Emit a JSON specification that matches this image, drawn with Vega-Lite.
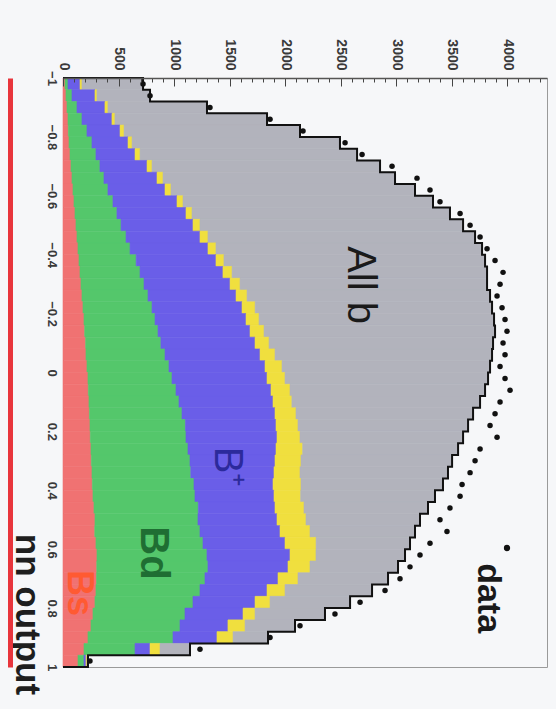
{
  "$schema": "https://vega.github.io/schema/vega-lite/v6.json",
  "width": 484,
  "height": 589,
  "autosize": {"type": "none"},
  "padding": {"left": 63, "top": 78, "right": 9, "bottom": 42},
  "background": "#f6f7f9",
  "config": {
    "view": {"stroke": "#9a9a9a", "strokeWidth": 1},
    "font": "Liberation Sans"
  },
  "datasets": {
    "bins": [
      {"lo": -1.00, "hi": -0.96, "a_Bs": 18, "b_Bd": 27, "c_Bplus": 108, "d_other": 18, "e_rest": 550},
      {"lo": -0.96, "hi": -0.92, "a_Bs": 27, "b_Bd": 54, "c_Bplus": 207, "d_other": 18, "e_rest": 478},
      {"lo": -0.92, "hi": -0.88, "a_Bs": 36, "b_Bd": 90, "c_Bplus": 252, "d_other": 27, "e_rest": 892},
      {"lo": -0.88, "hi": -0.84, "a_Bs": 45, "b_Bd": 126, "c_Bplus": 270, "d_other": 27, "e_rest": 1370},
      {"lo": -0.84, "hi": -0.80, "a_Bs": 48, "b_Bd": 168, "c_Bplus": 298, "d_other": 36, "e_rest": 1585},
      {"lo": -0.80, "hi": -0.76, "a_Bs": 54, "b_Bd": 207, "c_Bplus": 325, "d_other": 36, "e_rest": 1873},
      {"lo": -0.76, "hi": -0.72, "a_Bs": 63, "b_Bd": 234, "c_Bplus": 352, "d_other": 45, "e_rest": 1955},
      {"lo": -0.72, "hi": -0.68, "a_Bs": 72, "b_Bd": 261, "c_Bplus": 424, "d_other": 45, "e_rest": 2054},
      {"lo": -0.68, "hi": -0.64, "a_Bs": 81, "b_Bd": 288, "c_Bplus": 478, "d_other": 54, "e_rest": 2090},
      {"lo": -0.64, "hi": -0.60, "a_Bs": 90, "b_Bd": 315, "c_Bplus": 514, "d_other": 54, "e_rest": 2198},
      {"lo": -0.60, "hi": -0.56, "a_Bs": 99, "b_Bd": 351, "c_Bplus": 577, "d_other": 54, "e_rest": 2252},
      {"lo": -0.56, "hi": -0.52, "a_Bs": 108, "b_Bd": 378, "c_Bplus": 622, "d_other": 54, "e_rest": 2324},
      {"lo": -0.52, "hi": -0.48, "a_Bs": 117, "b_Bd": 406, "c_Bplus": 648, "d_other": 63, "e_rest": 2370},
      {"lo": -0.48, "hi": -0.44, "a_Bs": 126, "b_Bd": 442, "c_Bplus": 666, "d_other": 72, "e_rest": 2406},
      {"lo": -0.44, "hi": -0.40, "a_Bs": 135, "b_Bd": 469, "c_Bplus": 702, "d_other": 72, "e_rest": 2397},
      {"lo": -0.40, "hi": -0.36, "a_Bs": 144, "b_Bd": 515, "c_Bplus": 719, "d_other": 72, "e_rest": 2352},
      {"lo": -0.36, "hi": -0.32, "a_Bs": 153, "b_Bd": 541, "c_Bplus": 747, "d_other": 82, "e_rest": 2297},
      {"lo": -0.32, "hi": -0.28, "a_Bs": 162, "b_Bd": 568, "c_Bplus": 775, "d_other": 90, "e_rest": 2225},
      {"lo": -0.28, "hi": -0.24, "a_Bs": 171, "b_Bd": 595, "c_Bplus": 793, "d_other": 99, "e_rest": 2189},
      {"lo": -0.24, "hi": -0.20, "a_Bs": 180, "b_Bd": 622, "c_Bplus": 811, "d_other": 118, "e_rest": 2134},
      {"lo": -0.20, "hi": -0.16, "a_Bs": 189, "b_Bd": 640, "c_Bplus": 820, "d_other": 117, "e_rest": 2117},
      {"lo": -0.16, "hi": -0.12, "a_Bs": 195, "b_Bd": 661, "c_Bplus": 829, "d_other": 126, "e_rest": 2081},
      {"lo": -0.12, "hi": -0.08, "a_Bs": 204, "b_Bd": 678, "c_Bplus": 848, "d_other": 126, "e_rest": 2018},
      {"lo": -0.08, "hi": -0.04, "a_Bs": 207, "b_Bd": 712, "c_Bplus": 856, "d_other": 135, "e_rest": 1955},
      {"lo": -0.04, "hi": 0.00, "a_Bs": 216, "b_Bd": 739, "c_Bplus": 865, "d_other": 153, "e_rest": 1874},
      {"lo": 0.00, "hi": 0.04, "a_Bs": 225, "b_Bd": 757, "c_Bplus": 856, "d_other": 162, "e_rest": 1829},
      {"lo": 0.04, "hi": 0.08, "a_Bs": 228, "b_Bd": 790, "c_Bplus": 856, "d_other": 171, "e_rest": 1757},
      {"lo": 0.08, "hi": 0.12, "a_Bs": 234, "b_Bd": 811, "c_Bplus": 847, "d_other": 170, "e_rest": 1695},
      {"lo": 0.12, "hi": 0.16, "a_Bs": 238, "b_Bd": 834, "c_Bplus": 838, "d_other": 189, "e_rest": 1595},
      {"lo": 0.16, "hi": 0.20, "a_Bs": 243, "b_Bd": 860, "c_Bplus": 816, "d_other": 198, "e_rest": 1532},
      {"lo": 0.20, "hi": 0.24, "a_Bs": 246, "b_Bd": 862, "c_Bplus": 820, "d_other": 207, "e_rest": 1469},
      {"lo": 0.24, "hi": 0.28, "a_Bs": 252, "b_Bd": 874, "c_Bplus": 793, "d_other": 240, "e_rest": 1400},
      {"lo": 0.28, "hi": 0.32, "a_Bs": 255, "b_Bd": 889, "c_Bplus": 766, "d_other": 234, "e_rest": 1361},
      {"lo": 0.32, "hi": 0.36, "a_Bs": 261, "b_Bd": 890, "c_Bplus": 750, "d_other": 234, "e_rest": 1333},
      {"lo": 0.36, "hi": 0.40, "a_Bs": 264, "b_Bd": 916, "c_Bplus": 712, "d_other": 252, "e_rest": 1279},
      {"lo": 0.40, "hi": 0.44, "a_Bs": 270, "b_Bd": 919, "c_Bplus": 712, "d_other": 240, "e_rest": 1210},
      {"lo": 0.44, "hi": 0.48, "a_Bs": 279, "b_Bd": 940, "c_Bplus": 691, "d_other": 261, "e_rest": 1117},
      {"lo": 0.48, "hi": 0.52, "a_Bs": 288, "b_Bd": 928, "c_Bplus": 712, "d_other": 261, "e_rest": 1027},
      {"lo": 0.52, "hi": 0.56, "a_Bs": 286, "b_Bd": 948, "c_Bplus": 721, "d_other": 270, "e_rest": 946},
      {"lo": 0.56, "hi": 0.60, "a_Bs": 297, "b_Bd": 964, "c_Bplus": 739, "d_other": 280, "e_rest": 846},
      {"lo": 0.60, "hi": 0.64, "a_Bs": 306, "b_Bd": 991, "c_Bplus": 748, "d_other": 234, "e_rest": 802},
      {"lo": 0.64, "hi": 0.68, "a_Bs": 304, "b_Bd": 1002, "c_Bplus": 721, "d_other": 198, "e_rest": 793},
      {"lo": 0.68, "hi": 0.72, "a_Bs": 302, "b_Bd": 977, "c_Bplus": 658, "d_other": 180, "e_rest": 811},
      {"lo": 0.72, "hi": 0.76, "a_Bs": 297, "b_Bd": 937, "c_Bplus": 604, "d_other": 162, "e_rest": 784},
      {"lo": 0.76, "hi": 0.80, "a_Bs": 288, "b_Bd": 883, "c_Bplus": 559, "d_other": 135, "e_rest": 721},
      {"lo": 0.80, "hi": 0.84, "a_Bs": 270, "b_Bd": 829, "c_Bplus": 523, "d_other": 108, "e_rest": 630},
      {"lo": 0.84, "hi": 0.88, "a_Bs": 252, "b_Bd": 802, "c_Bplus": 432, "d_other": 154, "e_rest": 450},
      {"lo": 0.88, "hi": 0.92, "a_Bs": 225, "b_Bd": 766, "c_Bplus": 396, "d_other": 145, "e_rest": 315},
      {"lo": 0.92, "hi": 0.96, "a_Bs": 189, "b_Bd": 460, "c_Bplus": 135, "d_other": 90, "e_rest": 270},
      {"lo": 0.96, "hi": 1.00, "a_Bs": 135, "b_Bd": 54, "c_Bplus": 18, "d_other": 9, "e_rest": 9}
    ],
    "outline": [
      {"k": 0, "e": -1.00, "t": 0},
      {"k": 1, "e": -1.00, "t": 721},
      {"k": 2, "e": -0.96, "t": 784},
      {"k": 3, "e": -0.92, "t": 1297},
      {"k": 4, "e": -0.88, "t": 1838},
      {"k": 5, "e": -0.84, "t": 2135},
      {"k": 6, "e": -0.80, "t": 2495},
      {"k": 7, "e": -0.76, "t": 2649},
      {"k": 8, "e": -0.72, "t": 2856},
      {"k": 9, "e": -0.68, "t": 2991},
      {"k": 10, "e": -0.64, "t": 3171},
      {"k": 11, "e": -0.60, "t": 3333},
      {"k": 12, "e": -0.56, "t": 3486},
      {"k": 13, "e": -0.52, "t": 3604},
      {"k": 14, "e": -0.48, "t": 3712},
      {"k": 15, "e": -0.44, "t": 3775},
      {"k": 16, "e": -0.40, "t": 3802},
      {"k": 17, "e": -0.36, "t": 3820},
      {"k": 18, "e": -0.32, "t": 3820},
      {"k": 19, "e": -0.28, "t": 3847},
      {"k": 20, "e": -0.24, "t": 3865},
      {"k": 21, "e": -0.20, "t": 3883},
      {"k": 22, "e": -0.16, "t": 3892},
      {"k": 23, "e": -0.12, "t": 3874},
      {"k": 24, "e": -0.08, "t": 3865},
      {"k": 25, "e": -0.04, "t": 3847},
      {"k": 26, "e": 0.00, "t": 3829},
      {"k": 27, "e": 0.04, "t": 3802},
      {"k": 28, "e": 0.08, "t": 3757},
      {"k": 29, "e": 0.12, "t": 3694},
      {"k": 30, "e": 0.16, "t": 3649},
      {"k": 31, "e": 0.20, "t": 3604},
      {"k": 32, "e": 0.24, "t": 3559},
      {"k": 33, "e": 0.28, "t": 3505},
      {"k": 34, "e": 0.32, "t": 3468},
      {"k": 35, "e": 0.36, "t": 3423},
      {"k": 36, "e": 0.40, "t": 3351},
      {"k": 37, "e": 0.44, "t": 3288},
      {"k": 38, "e": 0.48, "t": 3216},
      {"k": 39, "e": 0.52, "t": 3171},
      {"k": 40, "e": 0.56, "t": 3126},
      {"k": 41, "e": 0.60, "t": 3081},
      {"k": 42, "e": 0.64, "t": 3018},
      {"k": 43, "e": 0.68, "t": 2928},
      {"k": 44, "e": 0.72, "t": 2784},
      {"k": 45, "e": 0.76, "t": 2586},
      {"k": 46, "e": 0.80, "t": 2360},
      {"k": 47, "e": 0.84, "t": 2090},
      {"k": 48, "e": 0.88, "t": 1847},
      {"k": 49, "e": 0.92, "t": 1144},
      {"k": 50, "e": 0.96, "t": 225},
      {"k": 51, "e": 1.00, "t": 0}
    ],
    "points": [
      {"c": -0.98, "v": 721}, {"c": -0.94, "v": 784}, {"c": -0.90, "v": 1324}, {"c": -0.86, "v": 1865},
      {"c": -0.82, "v": 2162}, {"c": -0.78, "v": 2541}, {"c": -0.74, "v": 2694}, {"c": -0.70, "v": 2964},
      {"c": -0.66, "v": 3189}, {"c": -0.62, "v": 3306}, {"c": -0.58, "v": 3396}, {"c": -0.54, "v": 3577},
      {"c": -0.50, "v": 3667}, {"c": -0.46, "v": 3757}, {"c": -0.42, "v": 3820}, {"c": -0.38, "v": 3892},
      {"c": -0.34, "v": 3964}, {"c": -0.30, "v": 3937}, {"c": -0.26, "v": 3910}, {"c": -0.22, "v": 3955},
      {"c": -0.18, "v": 3982}, {"c": -0.14, "v": 4000}, {"c": -0.10, "v": 3964}, {"c": -0.06, "v": 3982},
      {"c": -0.02, "v": 3937}, {"c": 0.02, "v": 3982}, {"c": 0.06, "v": 4027}, {"c": 0.10, "v": 3937},
      {"c": 0.14, "v": 3892}, {"c": 0.18, "v": 3847}, {"c": 0.22, "v": 3910}, {"c": 0.26, "v": 3757},
      {"c": 0.30, "v": 3712}, {"c": 0.34, "v": 3667}, {"c": 0.38, "v": 3595}, {"c": 0.42, "v": 3577},
      {"c": 0.46, "v": 3486}, {"c": 0.50, "v": 3396}, {"c": 0.54, "v": 3459}, {"c": 0.58, "v": 3306},
      {"c": 0.62, "v": 3216}, {"c": 0.66, "v": 3126}, {"c": 0.70, "v": 3036}, {"c": 0.74, "v": 2901},
      {"c": 0.78, "v": 2676}, {"c": 0.82, "v": 2450}, {"c": 0.86, "v": 2135}, {"c": 0.90, "v": 1865},
      {"c": 0.94, "v": 1234}, {"c": 0.98, "v": 243}
    ]
  },
  "resolve": {"axis": {"x": "independent", "y": "independent"}},
  "layer": [
    {
      "data": {"name": "bins"},
      "transform": [
        {"fold": ["a_Bs", "b_Bd", "c_Bplus", "d_other", "e_rest"], "as": ["comp", "n"]},
        {"stack": "n", "groupby": ["lo"], "sort": [{"field": "comp", "order": "ascending"}], "as": ["x0", "x1"]}
      ],
      "mark": {"type": "rect", "strokeWidth": 0.6},
      "encoding": {
        "x": {
          "field": "x0", "type": "quantitative", "title": null,
          "scale": {"domain": [0, 4360], "nice": false, "zero": true},
          "axis": {
            "orient": "top", "zindex": 1,
            "values": [0,100,200,300,400,500,600,700,800,900,1000,1100,1200,1300,1400,1500,1600,1700,1800,1900,2000,2100,2200,2300,2400,2500,2600,2700,2800,2900,3000,3100,3200,3300,3400,3500,3600,3700,3800,3900,4000,4100,4200,4300],
            "format": "d",
            "labelExpr": "datum.value % 500 === 0 ? datum.label : ''",
            "labelAngle": 90, "labelAlign": "right", "labelBaseline": "middle",
            "labelFontSize": 14, "labelFontWeight": "bold", "labelColor": "#3a3a3a",
            "labelPadding": 16, "labelOverlap": false, "labelFlush": false,
            "tickSize": {"condition": {"test": "datum.value % 500 === 0", "value": -8}, "value": -4},
            "tickColor": "#444", "tickWidth": 1,
            "domainColor": "#555", "domainWidth": 1.5,
            "grid": false
          }
        },
        "x2": {"field": "x1"},
        "y": {
          "field": "lo", "type": "quantitative", "title": null,
          "scale": {"domain": [-1, 1], "reverse": true, "nice": false, "zero": false},
          "axis": {
            "orient": "left",
            "values": [-1, -0.8, -0.6, -0.4, -0.2, 0, 0.2, 0.4, 0.6, 0.8, 1],
            "format": "~g",
            "labelAngle": 90, "labelAlign": "center", "labelBaseline": "middle",
            "labelFontSize": 13, "labelFontWeight": "bold", "labelColor": "#3a3a3a",
            "labelPadding": 12, "labelOverlap": false, "labelFlush": false,
            "ticks": false, "domainColor": "#8a8a8a", "domainWidth": 1, "grid": false,
            "title": "nn output", "titleAngle": 90, "titleX": -37, "titleY": 536,
            "titleAlign": "center", "titleBaseline": "middle",
            "titleFontSize": 35, "titleFontWeight": "bold", "titleColor": "#1e1e1e"
          }
        },
        "y2": {"field": "hi"},
        "fill": {
          "field": "comp", "type": "nominal", "legend": null,
          "scale": {"domain": ["a_Bs", "b_Bd", "c_Bplus", "d_other", "e_rest"], "range": ["#f07272", "#54c76b", "#6a5ee8", "#f0df3e", "#b2b3bc"]}
        },
        "stroke": {
          "field": "comp", "type": "nominal", "legend": null,
          "scale": {"domain": ["a_Bs", "b_Bd", "c_Bplus", "d_other", "e_rest"], "range": ["#f07272", "#54c76b", "#6a5ee8", "#f0df3e", "#b2b3bc"]}
        }
      }
    },
    {
      "data": {"name": "outline"},
      "mark": {"type": "line", "color": "#111", "strokeWidth": 2, "interpolate": "step-before"},
      "encoding": {
        "x": {"field": "t", "type": "quantitative", "title": null, "axis": null},
        "y": {
          "field": "e", "type": "quantitative", "title": null,
          "axis": {"orient": "left", "offset": 53, "labels": false, "ticks": false, "grid": false, "domainColor": "#e8353c", "domainWidth": 5, "title": null}
        },
        "order": {"field": "k", "type": "quantitative"}
      }
    },
    {
      "data": {"name": "points"},
      "mark": {"type": "point", "filled": true, "shape": "circle", "size": 30, "color": "#111", "opacity": 1},
      "encoding": {
        "x": {"field": "v", "type": "quantitative", "title": null, "axis": null},
        "y": {"field": "c", "type": "quantitative", "title": null, "axis": null}
      }
    },
    {
      "data": {"values": [{}]},
      "mark": {"type": "text", "text": "All b", "angle": 90, "align": "center", "baseline": "middle", "fontSize": 40, "color": "#1a1a1a"},
      "encoding": {
        "x": {"datum": 2676, "type": "quantitative", "title": null, "axis": null},
        "y": {"datum": -0.297, "type": "quantitative", "title": null, "axis": null}
      }
    },
    {
      "data": {"values": [{}]},
      "mark": {"type": "text", "text": "B⁺", "angle": 90, "align": "center", "baseline": "middle", "fontSize": 40, "color": "#2c2a9c"},
      "encoding": {
        "x": {"datum": 1477, "type": "quantitative", "title": null, "axis": null},
        "y": {"datum": 0.321, "type": "quantitative", "title": null, "axis": null}
      }
    },
    {
      "data": {"values": [{}]},
      "mark": {"type": "text", "text": "Bd", "angle": 90, "align": "center", "baseline": "middle", "fontSize": 40, "fontWeight": "bold", "color": "#1f6e33"},
      "encoding": {
        "x": {"datum": 811, "type": "quantitative", "title": null, "axis": null},
        "y": {"datum": 0.613, "type": "quantitative", "title": null, "axis": null}
      }
    },
    {
      "data": {"values": [{}]},
      "mark": {"type": "text", "text": "Bs", "angle": 90, "align": "center", "baseline": "middle", "fontSize": 36, "fontWeight": "bold", "color": "#ff5a32"},
      "encoding": {
        "x": {"datum": 144, "type": "quantitative", "title": null, "axis": null},
        "y": {"datum": 0.749, "type": "quantitative", "title": null, "axis": null}
      }
    },
    {
      "data": {"values": [{}]},
      "mark": {"type": "text", "text": "data", "angle": 90, "align": "center", "baseline": "middle", "fontSize": 34, "fontWeight": "bold", "color": "#1a1a1a"},
      "encoding": {
        "x": {"datum": 3829, "type": "quantitative", "title": null, "axis": null},
        "y": {"datum": 0.766, "type": "quantitative", "title": null, "axis": null}
      }
    },
    {
      "data": {"values": [{}]},
      "mark": {"type": "point", "filled": true, "shape": "circle", "size": 40, "color": "#111", "opacity": 1},
      "encoding": {
        "x": {"datum": 4000, "type": "quantitative", "title": null, "axis": null},
        "y": {"datum": 0.596, "type": "quantitative", "title": null, "axis": null}
      }
    }
  ]
}
